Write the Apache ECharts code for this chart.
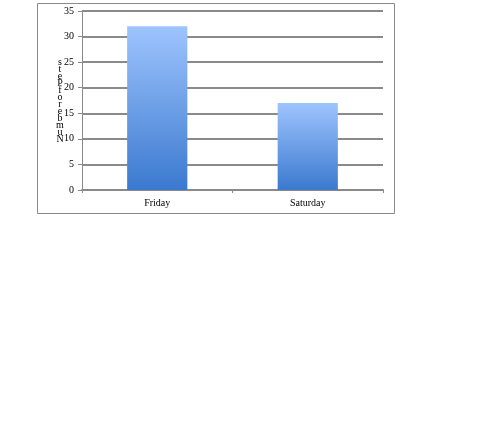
<!DOCTYPE html>
<html>
<head>
<meta charset="utf-8">
<script src="https://cdn.jsdelivr.net/npm/echarts@6/dist/echarts.min.js"></script>
<style>html,body{margin:0;padding:0;background:#fff;}#c{width:504px;height:429px;}</style>
</head>
<body>
<div id="c"></div>
<script>
var categories = ['Friday', 'Saturday'];
var values = [32, 17];
var yAxisTitle = 'NumberofPets';

var stacked = yAxisTitle.split('').reverse().join('\n');
var chart = echarts.init(document.getElementById('c'), null, {renderer: 'canvas'});
chart.setOption({
  animation: false,
  backgroundColor: '#fff',
  graphic: [{
    type: 'rect', left: 35, top: 1, z: -1,
    shape: {width: 357, height: 210},
    style: {fill: 'none', stroke: '#8a8a8a', lineWidth: 1}
  }],
  grid: {left: 82, right: 121, top: 11, bottom: 239, containLabel: false},
  xAxis: {
    type: 'category', data: categories,
    axisLine: {lineStyle: {color: '#8a8a8a', width: 2}},
    axisTick: {show: true, length: 3, lineStyle: {color: '#8a8a8a'}},
    axisLabel: {color: '#000', fontFamily: 'Liberation Serif', fontSize: 10, margin: 8}
  },
  yAxis: {
    type: 'value', min: 0, max: 35, interval: 5,
    name: stacked, nameLocation: 'middle', nameRotate: 0, nameGap: 22, nameMoveOverlap: false,
    nameTextStyle: {color: '#000', fontFamily: 'Liberation Serif', fontSize: 10, lineHeight: 7, align: 'center', verticalAlign: 'middle'},
    axisLine: {show: true, lineStyle: {color: '#8a8a8a', width: 1}},
    axisTick: {show: true, length: 4, lineStyle: {color: '#8a8a8a'}},
    axisLabel: {color: '#000', fontFamily: 'Liberation Serif', fontSize: 10, margin: 8},
    splitLine: {lineStyle: {color: '#8a8a8a', width: 2}}
  },
  series: [{
    type: 'bar', data: values, barWidth: '40%',
    itemStyle: {
      color: new echarts.graphic.LinearGradient(0, 0, 0, 1, [
        {offset: 0, color: '#9ec4fe'},
        {offset: 1, color: '#3b79cf'}
      ])
    }
  }]
});
</script>
</body>
</html>
